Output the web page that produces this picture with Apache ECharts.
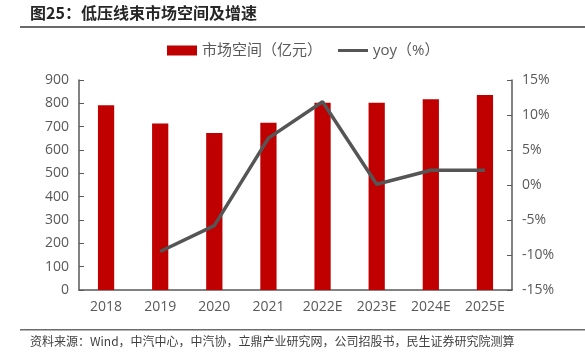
<!DOCTYPE html>
<html><head><meta charset="utf-8">
<script src="https://cdn.jsdelivr.net/npm/echarts@6/dist/echarts.min.js"></script>
<style>html,body{margin:0;padding:0;background:#fff}#c{width:585px;height:361px}</style>
</head><body><div id="c"></div>
<script>
const categories = ['2018','2019','2020','2021','2022E','2023E','2024E','2025E'];
const marketSize = [792, 714, 673, 717, 803, 802, 818, 836];
const yoy = [null, -9.5, -5.8, 6.7, 11.9, 0.1, 2.1, 2.1];
const leftTicks = {min: 0, max: 900, interval: 100};
const rightTicks = {min: -15, max: 15, interval: 5};
const FONT = '"Open Sans","Noto Sans CJK SC",sans-serif';

const chart = echarts.init(document.getElementById('c'), null, {renderer: 'canvas'});
chart.setOption({
  animation: false,
  textStyle: {fontFamily: FONT},
  legend: {
    top: 38, left: 162,
    itemWidth: 30, itemHeight: 10, itemGap: 16,
    textStyle: {fontSize: 15, color: '#595959', fontFamily: FONT},
    data: [
      {name: '市场空间（亿元）', icon: 'rect'},
      {name: 'yoy（%）', icon: 'path://M0,0h30v3h-30z', itemStyle: {color: '#555555'}}
    ]
  },
  grid: {left: 79, right: 73, top: 80, bottom: 71},
  graphic: [
    {type: 'text', left: 30, top: 5, style: {text: '图25：低压线束市场空间及增速', font: 'bold 16px "Noto Sans CJK SC",sans-serif', fill: '#262626'}},
    {type: 'rect', shape: {x: 20, y: 26, width: 565, height: 2}, style: {fill: '#6b6b6b'}},
    {type: 'rect', shape: {x: 20, y: 329, width: 565, height: 1.5}, style: {fill: '#6b6b6b'}},
    {type: 'text', left: 30, top: 335, style: {text: '资料来源：Wind，中汽中心，中汽协，立鼎产业研究网，公司招股书，民生证券研究院测算', font: '12px "Noto Sans CJK SC",sans-serif', fill: '#404040'}}
  ],
  xAxis: {
    type: 'category', data: categories,
    axisLine: {lineStyle: {color: '#595959', width: 1.5}},
    axisTick: {show: false},
    axisLabel: {color: '#595959', fontSize: 14, margin: 10, fontFamily: FONT}
  },
  yAxis: [
    {type: 'value', min: leftTicks.min, max: leftTicks.max, interval: leftTicks.interval,
     axisLine: {show: true, lineStyle: {color: '#595959', width: 1.5}},
     axisTick: {show: true, inside: true, length: 5, lineStyle: {color: '#595959'}},
     splitLine: {show: false},
     axisLabel: {color: '#595959', fontSize: 14, margin: 10, fontFamily: FONT}},
    {type: 'value', min: rightTicks.min, max: rightTicks.max, interval: rightTicks.interval,
     axisLine: {show: true, lineStyle: {color: '#595959', width: 1.5}},
     axisTick: {show: true, inside: true, length: 5, lineStyle: {color: '#595959'}},
     splitLine: {show: false},
     axisLabel: {color: '#595959', fontSize: 14, margin: 10, formatter: '{value}%', fontFamily: FONT}}
  ],
  series: [
    {name: '市场空间（亿元）', type: 'bar', data: marketSize, barWidth: '30%',
     itemStyle: {color: '#C00000'}},
    {name: 'yoy（%）', type: 'line', yAxisIndex: 1, data: yoy, symbol: 'none',
     lineStyle: {color: '#555555', width: 3.5}, itemStyle: {color: '#555555'}}
  ]
});
</script></body></html>
